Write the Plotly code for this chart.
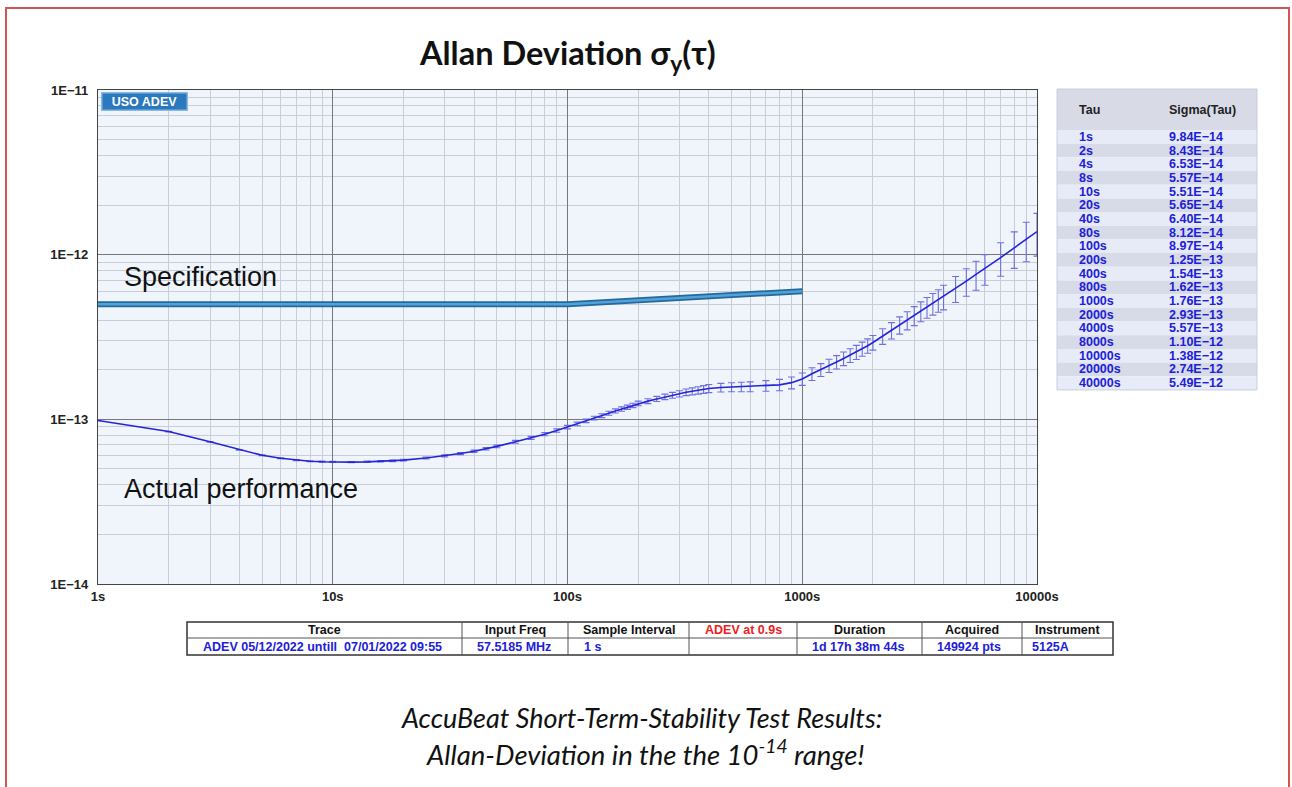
import plotly.graph_objects as go

# ---------------- data ----------------
tau = [1, 2, 3, 4, 5, 6, 7, 8, 9, 10,
       12, 14, 16, 18, 20,
       25, 30, 35, 40, 45, 50, 60, 70, 80, 90, 100,
       110, 120, 130, 140, 150, 160, 170, 180, 190, 200,
       220, 240, 260, 280, 300, 320, 340, 360, 380, 400,
       450, 500, 550, 600, 700, 800, 900, 1000,
       1100, 1200, 1300, 1400, 1500, 1600, 1700, 1800, 1900, 2000,
       2200, 2400, 2600, 2800, 3000, 3200, 3400, 3600, 3800, 4000,
       4500, 5000, 5500, 6000, 7000, 8000, 9000, 10000]
adev_e14 = [9.84, 8.43, 7.30, 6.53, 6.05, 5.80, 5.65, 5.57, 5.53, 5.51,
            5.50, 5.52, 5.56, 5.60, 5.65,
            5.82, 6.00, 6.20, 6.40, 6.62, 6.85, 7.30, 7.72, 8.12, 8.55, 8.97,
            9.38, 9.79, 10.17, 10.53, 10.89, 11.25, 11.55, 11.85, 12.15, 12.50,
            12.90, 13.30, 13.70, 14.00, 14.30, 14.60, 14.80, 15.00, 15.20, 15.40,
            15.60, 15.70, 15.75, 15.80, 16.00, 16.20, 16.70, 17.60,
            18.9, 20.0, 21.2, 22.3, 23.4, 24.5, 25.6, 26.8, 28.0, 29.3,
            32.0, 34.7, 37.4, 40.0, 42.7, 45.4, 48.0, 50.5, 53.0, 55.7,
            62.5, 69.0, 76.0, 82.5, 96.0, 110.0, 124.0, 138.0]
err_pct = [0.3, 0.4, 0.5, 0.5, 0.6, 0.6, 0.7, 0.7, 0.8, 0.8,
           0.9, 1.0, 1.0, 1.1, 1.2,
           1.3, 1.4, 1.5, 1.6, 1.7, 1.8, 2.0, 2.1, 2.2, 2.3, 2.4,
           2.5, 2.5, 2.6, 2.7, 2.8, 2.9, 3.0, 3.0, 3.1, 3.2,
           3.4, 3.6, 3.9, 4.1, 4.4, 4.6, 4.9, 5.1, 5.4, 5.7,
           6.0, 6.3, 6.6, 6.9, 7.4, 7.9, 8.3, 8.7,
           8.9, 9.0, 9.2, 9.3, 9.5, 9.6, 9.8, 9.9, 10.0, 10.2,
           10.8, 11.4, 12.0, 12.6, 13.2, 13.8, 14.4, 15.0, 15.6, 17.0,
           18.0, 19.0, 20.0, 21.0, 23.0, 25.0, 27.0, 29.0]

spec_tau = [1, 100, 1000]
spec_val = [5.0e-13, 5.0e-13, 6.0e-13]

table_tau = ["1s", "2s", "4s", "8s", "10s", "20s", "40s", "80s", "100s", "200s",
             "400s", "800s", "1000s", "2000s", "4000s", "8000s", "10000s",
             "20000s", "40000s"]
table_sigma = ["9.84E−14", "8.43E−14", "6.53E−14", "5.57E−14", "5.51E−14",
               "5.65E−14", "6.40E−14", "8.12E−14", "8.97E−14", "1.25E−13",
               "1.54E−13", "1.62E−13", "1.76E−13", "2.93E−13", "5.57E−13",
               "1.10E−12", "1.38E−12", "2.74E−12", "5.49E−12"]

info_headers = ["Trace", "Input Freq", "Sample Interval", "ADEV at 0.9s",
                "Duration", "Acquired", "Instrument"]
info_values = ["ADEV 05/12/2022 untill  07/01/2022 09:55", "57.5185 MHz", "1 s", "",
               "1d 17h 38m 44s", "149924 pts", "5125A"]

x_tickvals = [1, 10, 100, 1000, 10000]
x_ticktext = ["1s", "10s", "100s", "1000s", "10000s"]
y_tickvals = [1e-14, 1e-13, 1e-12, 1e-11]
y_ticktext = ["1E−14", "1E−13", "1E−12", "1E−11"]

# ---------------- figure ----------------
W, H = 1292, 787
def px(x):
    return x / W
def py(y):
    return 1 - y / H

adev = [v * 1e-14 for v in adev_e14]
err = [a * p / 100.0 for a, p in zip(adev, err_pct)]

fig = go.Figure()
fig.add_trace(go.Scatter(x=spec_tau, y=spec_val, mode="lines",
                         line=dict(color="#25699c", width=6), hoverinfo="skip",
                         showlegend=False))
fig.add_trace(go.Scatter(x=spec_tau, y=spec_val, mode="lines",
                         line=dict(color="#4fa3d8", width=2.5), hoverinfo="skip",
                         showlegend=False))
fig.add_trace(go.Scatter(x=tau, y=adev, mode="lines",
                         line=dict(color="#2424d8", width=1.6),
                         error_y=dict(type="data", array=err, visible=True,
                                      color="#6f6fe0", thickness=1.1, width=3.5),
                         showlegend=False))

F_ARIAL = "Liberation Sans, Arial, sans-serif"
F_CAL = "Lato, Open Sans, sans-serif"
BLUE_TXT = "#2020d8"

grid_major = "#777777"
grid_minor = "#c9cdd6"
fig.update_xaxes(type="log", range=[0, 4], automargin=False,
                 domain=[px(98), px(1037)],
                 tickmode="array", tickvals=x_tickvals,
                 ticktext=["<b>" + t + "</b>" for t in x_ticktext],
                 tickfont=dict(family=F_ARIAL, size=13, color="#222"),
                 showgrid=True, gridcolor=grid_major, gridwidth=1,
                 minor=dict(dtick="D1", showgrid=True, gridcolor=grid_minor, gridwidth=1),
                 showline=True, linecolor="#444", linewidth=1.2, mirror=True,
                 ticks="", zeroline=False)
fig.update_yaxes(type="log", range=[-14, -11], automargin=False,
                 domain=[py(584), py(90)],
                 tickmode="array", tickvals=y_tickvals,
                 ticktext=["<b>" + t + "</b>" for t in y_ticktext],
                 tickfont=dict(family=F_ARIAL, size=13, color="#222"),
                 ticklabelstandoff=6,
                 showgrid=True, gridcolor=grid_major, gridwidth=1,
                 minor=dict(dtick="D1", showgrid=True, gridcolor=grid_minor, gridwidth=1),
                 showline=True, linecolor="#444", linewidth=1.2, mirror=True,
                 ticks="", zeroline=False)

annotations = [
    dict(text="<b>Allan Deviation σ<sub>y</sub>(τ)</b>", x=px(567), y=py(55),
         xref="paper", yref="paper", showarrow=False, xanchor="center", yanchor="middle",
         font=dict(family=F_CAL, size=32.5, color="#111")),
    dict(text="Specification", x=px(122), y=py(277), xref="paper", yref="paper",
         showarrow=False, xanchor="left", yanchor="middle",
         font=dict(family=F_ARIAL, size=27, color="#111")),
    dict(text="Actual performance", x=px(122), y=py(489), xref="paper", yref="paper",
         showarrow=False, xanchor="left", yanchor="middle",
         font=dict(family=F_ARIAL, size=27, color="#111")),
    dict(text="<b>USO ADEV</b>", x=px(101), y=py(92), xref="paper", yref="paper",
         showarrow=False, xanchor="left", yanchor="top",
         bgcolor="#2a78bd", bordercolor="#8ab8e0", borderwidth=1.5, borderpad=1,
         width=82, height=14,
         font=dict(family=F_ARIAL, size=12.5, color="white")),
    dict(text="<i>AccuBeat Short-Term-Stability Test Results:</i>", x=px(641), y=py(717),
         xref="paper", yref="paper", showarrow=False, xanchor="center", yanchor="middle",
         font=dict(family=F_CAL, size=27, color="#111")),
    dict(text="<i>Allan-Deviation in the the 10<sup>-14</sup> range!</i>", x=px(645), y=py(752),
         xref="paper", yref="paper", showarrow=False, xanchor="center", yanchor="middle",
         font=dict(family=F_CAL, size=27.5, color="#111")),
]

shapes = []

tb_x0, tb_x1 = 1057, 1257
tb_top, hdr_bottom, row_h = 89, 130, 13.68
shapes.append(dict(type="rect", xref="paper", yref="paper",
                   x0=px(tb_x0), x1=px(tb_x1), y0=py(hdr_bottom), y1=py(tb_top),
                   fillcolor="#d8dbe6", line=dict(width=0)))
annotations.append(dict(text="<b>Tau</b>", x=px(1077), y=py(110), xref="paper", yref="paper",
                        showarrow=False, xanchor="left", yanchor="middle",
                        font=dict(family=F_ARIAL, size=12.5, color="#222")))
annotations.append(dict(text="<b>Sigma(Tau)</b>", x=px(1167), y=py(110), xref="paper", yref="paper",
                        showarrow=False, xanchor="left", yanchor="middle",
                        font=dict(family=F_ARIAL, size=12.5, color="#222")))
for i, (t, s) in enumerate(zip(table_tau, table_sigma)):
    r0 = hdr_bottom + i * row_h
    shapes.append(dict(type="rect", xref="paper", yref="paper",
                       x0=px(tb_x0), x1=px(tb_x1), y0=py(r0 + row_h), y1=py(r0),
                       fillcolor="#e7ebf7" if i % 2 == 0 else "#d7dbe7", line=dict(width=0)))
    yc = py(r0 + row_h / 2)
    annotations.append(dict(text="<b>" + t + "</b>", x=px(1077), y=yc, xref="paper", yref="paper",
                            showarrow=False, xanchor="left", yanchor="middle",
                            font=dict(family=F_ARIAL, size=12.5, color=BLUE_TXT)))
    annotations.append(dict(text="<b>" + s + "</b>", x=px(1167), y=yc, xref="paper", yref="paper",
                            showarrow=False, xanchor="left", yanchor="middle",
                            font=dict(family=F_ARIAL, size=12.5, color=BLUE_TXT)))
shapes.append(dict(type="rect", xref="paper", yref="paper",
                   x0=px(tb_x0), x1=px(tb_x1), y0=py(hdr_bottom + len(table_tau) * row_h), y1=py(tb_top),
                   fillcolor="rgba(0,0,0,0)", line=dict(color="#c9cede", width=1)))

col_edges = [187, 462, 568, 689, 797, 922, 1022, 1113]
it_top, it_mid, it_bot = 622, 638, 655
shapes.append(dict(type="rect", xref="paper", yref="paper",
                   x0=px(col_edges[0]), x1=px(col_edges[-1]), y0=py(it_bot), y1=py(it_top),
                   fillcolor="white", line=dict(color="#333", width=1.5)))
shapes.append(dict(type="line", xref="paper", yref="paper",
                   x0=px(col_edges[0]), x1=px(col_edges[-1]), y0=py(it_mid), y1=py(it_mid),
                   line=dict(color="#555", width=1)))
for e in col_edges[1:-1]:
    shapes.append(dict(type="line", xref="paper", yref="paper",
                       x0=px(e), x1=px(e), y0=py(it_bot), y1=py(it_top),
                       line=dict(color="#555", width=1)))
value_left = [201, 475, 582, 700, 810, 935, 1030]
for j, (h, v) in enumerate(zip(info_headers, info_values)):
    cx = (col_edges[j] + col_edges[j + 1]) / 2
    annotations.append(dict(text="<b>" + h + "</b>", x=px(cx), y=py(630), xref="paper", yref="paper",
                            showarrow=False, xanchor="center", yanchor="middle",
                            font=dict(family=F_ARIAL, size=12.5,
                                      color="#ee2020" if j == 3 else "#111")))
    if v:
        annotations.append(dict(text="<b>" + v + "</b>", x=px(value_left[j]), y=py(647),
                                xref="paper", yref="paper",
                                showarrow=False, xanchor="left", yanchor="middle",
                                font=dict(family=F_ARIAL, size=12.5, color=BLUE_TXT)))

shapes.append(dict(type="rect", xref="paper", yref="paper", x0=px(6), x1=px(1289), y0=py(800), y1=py(8),
                   line=dict(color="#d05555", width=2), fillcolor="rgba(0,0,0,0)", layer="above"))

fig.update_layout(
    width=W, height=H, autosize=False,
    margin=dict(l=0, r=0, t=0, b=0, pad=0, autoexpand=False),
    paper_bgcolor="white", plot_bgcolor="#f0f5fc",
    showlegend=False, annotations=annotations, shapes=shapes,
)

fig.write_html("out.html", config={"displayModeBar": False},
               post_script="document.body.style.margin='0';document.body.style.padding='0';"
                           "document.body.style.overflow='hidden';"
                           "document.documentElement.style.overflow='hidden';")
